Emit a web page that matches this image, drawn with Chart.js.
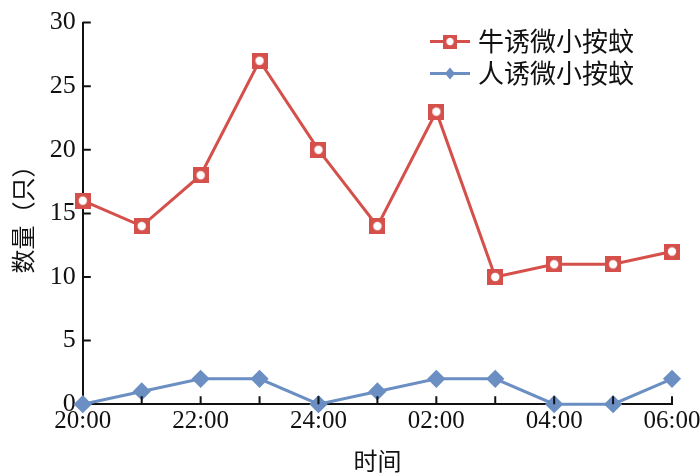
<!DOCTYPE html>
<html>
<head>
<meta charset="utf-8">
<script src="https://cdn.jsdelivr.net/npm/chart.js@4/dist/chart.umd.min.js"></script>
<style>
  html, body { margin: 0; padding: 0; background: #fff; }
  #wrap { width: 700px; height: 475px; }
</style>
</head>
<body>
<div id="wrap"><canvas id="chart"></canvas></div>
<script>
const hours = ["20:00", "21:00", "22:00", "23:00", "24:00", "01:00", "02:00", "03:00", "04:00", "05:00", "06:00"];
const cattleBaited = [16, 14, 18, 27, 20, 14, 23, 10, 11, 11, 12];
const humanBaited = [0, 1, 2, 2, 0, 1, 2, 2, 0, 0, 2];
const seriesNames = ["牛诱微小按蚊", "人诱微小按蚊"];

const RED = "#d5504a";
const BLUE = "#6b8fc3";
const NUM_FONT = "'Liberation Serif', 'Noto Sans CJK SC', serif";
const CJK_FONT = "'Noto Sans CJK SC', 'Liberation Serif', serif";

// red square with a white hole, used as the point marker
function squareMarker() {
  const c = document.createElement("canvas");
  c.width = 16; c.height = 16;
  const g = c.getContext("2d");
  g.fillStyle = RED;
  g.fillRect(0, 0, 16, 16);
  g.fillStyle = "#fff";
  g.beginPath();
  g.arc(8, 8, 4.2, 0, Math.PI * 2);
  g.fill();
  return c;
}
const redMarker = squareMarker();

// tick marks pointing into the plot
const innerTicks = {
  id: "innerTicks",
  afterDatasetsDraw(chart) {
    const ctx = chart.ctx;
    const { x, y } = chart.scales;
    ctx.save();
    ctx.strokeStyle = "#111";
    ctx.lineWidth = 2;
    ctx.beginPath();
    x.ticks.forEach((t, i) => {
      if (i === 0) return;
      const px = x.getPixelForTick(i);
      ctx.moveTo(px, y.bottom);
      ctx.lineTo(px, y.bottom - 8);
    });
    y.ticks.forEach((t, i) => {
      if (i === 0) return;
      const py = y.getPixelForTick(i);
      ctx.moveTo(x.left, py);
      ctx.lineTo(x.left + 8, py);
    });
    ctx.stroke();
    ctx.restore();
  }
};

// legend drawn inside the plot, top right
const innerLegend = {
  id: "innerLegend",
  afterDraw(chart) {
    const ctx = chart.ctx;
    const area = chart.chartArea;
    const x0 = 430;
    const rows = [area.top + 19, area.top + 51];
    ctx.save();
    chart.data.datasets.forEach((ds, i) => {
      const yy = rows[i];
      ctx.strokeStyle = ds.borderColor;
      ctx.lineWidth = 3;
      ctx.beginPath();
      ctx.moveTo(x0, yy);
      ctx.lineTo(x0 + 40, yy);
      ctx.stroke();
      if (i === 0) {
        ctx.drawImage(redMarker, x0 + 13, yy - 7, 14, 14);
      } else {
        ctx.fillStyle = ds.pointBackgroundColor;
        ctx.beginPath();
        ctx.moveTo(x0 + 20, yy - 6);
        ctx.lineTo(x0 + 25, yy);
        ctx.lineTo(x0 + 20, yy + 6);
        ctx.lineTo(x0 + 15, yy);
        ctx.closePath();
        ctx.fill();
      }
      ctx.fillStyle = "#111";
      ctx.font = "26px " + CJK_FONT;
      ctx.textBaseline = "middle";
      ctx.fillText(ds.label, x0 + 48, yy);
    });
    ctx.restore();
  }
};

new Chart(document.getElementById("chart"), {
  type: "line",
  data: {
    labels: hours,
    datasets: [
      {
        label: seriesNames[0],
        data: cattleBaited,
        borderColor: RED,
        borderWidth: 3,
        pointStyle: redMarker,
        pointRadius: 8,
        tension: 0
      },
      {
        label: seriesNames[1],
        data: humanBaited,
        borderColor: BLUE,
        backgroundColor: BLUE,
        pointBackgroundColor: BLUE,
        pointBorderColor: BLUE,
        borderWidth: 3,
        pointStyle: "rectRot",
        pointRadius: 7,
        tension: 0
      }
    ]
  },
  options: {
    responsive: true,
    maintainAspectRatio: false,
    animation: false,
    clip: false,
    layout: { padding: { top: 6, right: 0, left: 4, bottom: 0 } },
    plugins: { legend: { display: false }, tooltip: { enabled: false } },
    scales: {
      x: {
        offset: false,
        border: { color: "#111", width: 2 },
        grid: { drawOnChartArea: false, drawTicks: false },
        afterFit(scale) { scale.paddingRight = 28; },
        ticks: {
          autoSkip: false,
          maxRotation: 0,
          padding: 2,
          color: "#111",
          font: { family: NUM_FONT, size: 25 },
          callback: (v, i) => (i % 2 === 0 ? hours[i] : "")
        },
        title: {
          display: true,
          text: "时间",
          color: "#111",
          font: { family: CJK_FONT, size: 24 },
          padding: { top: 8, bottom: 0 }
        }
      },
      y: {
        min: 0,
        max: 30,
        border: { color: "#111", width: 2 },
        grid: { drawOnChartArea: false, drawTicks: false },
        ticks: {
          stepSize: 5,
          padding: 7,
          color: "#111",
          font: { family: NUM_FONT, size: 26 }
        },
        title: {
          display: true,
          text: "数量（只）",
          color: "#111",
          font: { family: CJK_FONT, size: 24 },
          padding: { bottom: 6 }
        }
      }
    }
  },
  plugins: [innerTicks, innerLegend]
});
</script>
</body>
</html>
